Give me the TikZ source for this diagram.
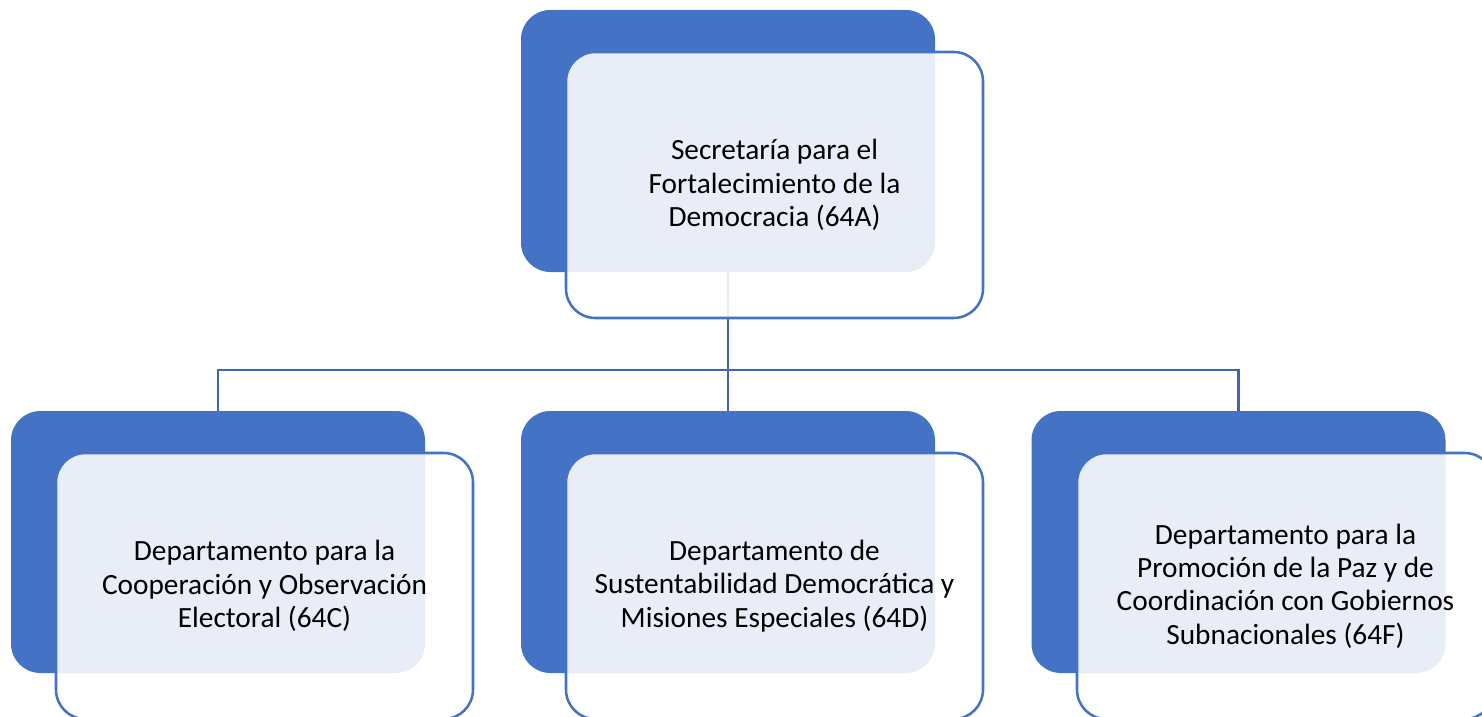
\documentclass[tikz,border=0pt]{standalone}
\usepackage{fontspec}
\setmainfont{Carlito}
\usepackage{xcolor}
\usepackage{tikz}
\definecolor{boxblue}{HTML}{4472C4}
\definecolor{linkblue}{HTML}{4266AE}

\begin{document}
\begin{tikzpicture}[x=0.75pt,y=-0.75pt,
  back/.style={fill=boxblue, rounded corners=22pt, minimum width=310.5pt, minimum height=196.5pt, inner sep=0pt, outer sep=0pt},
  front/.style={draw=boxblue, line width=1.9pt, fill=white, fill opacity=0.88, text opacity=1, rounded corners=22pt, minimum width=312.75pt, minimum height=199.5pt, inner sep=0pt, align=center, font=\fontsize{22}{25}\selectfont},
  link/.style={draw=linkblue, line width=2.2pt}]
  \useasboundingbox (0,0) rectangle (1482,717);
  \node[back] (sfdB) at (728,141) {};
  \node[back] (coeB) at (218,542) {};
  \node[back] (sdmB) at (728,542) {};
  \node[back] (ppcB) at (1238.5,542) {};
  \coordinate (bus) at (728,370);
  \draw[link] (sfdB.south) -- (sfdB.south |- bus) -| (coeB.north);
  \draw[link] (sfdB.south |- bus) -| (ppcB.north);
  \draw[link] (sfdB.south |- bus) -- (sdmB.north);
  \node[front] (sfd) at (774.5,185) {Secretaría para el\\Fortalecimiento de la\\Democracia (64A)};
  \node[front] (coe) at (264.5,586) {Departamento para la\\Cooperación y Observación\\Electoral (64C)};
  \node[front] (sdm) at (774.5,586) {Departamento de\\Sustentabilidad Democrática y\\Misiones Especiales (64D)};
  \node[front] (ppc) at (1285.5,586) {Departamento para la\\Promoción de la Paz y de\\Coordinación con Gobiernos\\Subnacionales (64F)};
\end{tikzpicture}
\end{document}
